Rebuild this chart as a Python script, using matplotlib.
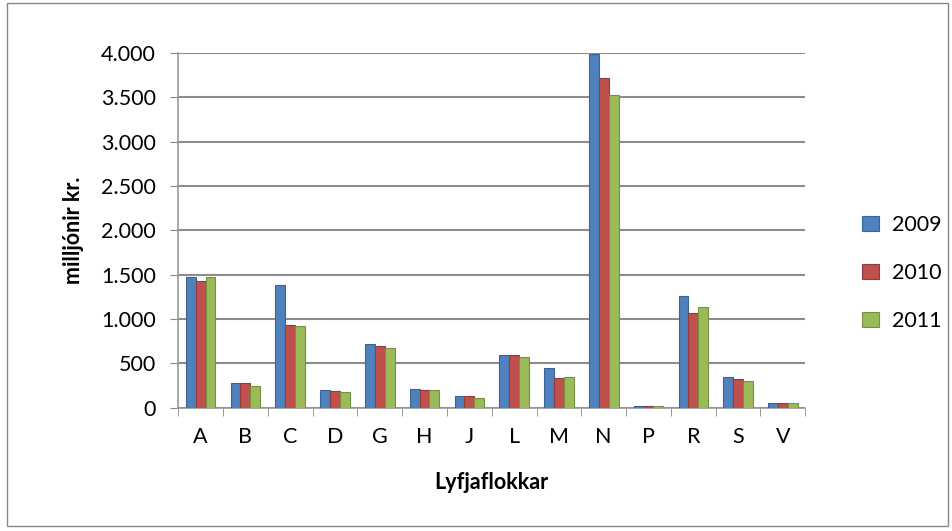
import matplotlib
matplotlib.use("Agg")
import matplotlib.pyplot as plt
import numpy as np
from matplotlib.patches import Rectangle

categories = ["A", "B", "C", "D", "G", "H", "J", "L", "M", "N", "P", "R", "S", "V"]
v2009 = [1480, 280, 1390, 200, 720, 210, 130, 600, 450, 3990, 20, 1260, 350, 50]
v2010 = [1430, 280, 930, 190, 700, 205, 130, 590, 340, 3720, 15, 1070, 325, 50]
v2011 = [1480, 250, 920, 180, 680, 200, 110, 575, 345, 3530, 15, 1135, 305, 50]
series_names = ["2009", "2010", "2011"]
yticks = [0, 500, 1000, 1500, 2000, 2500, 3000, 3500, 4000]
ytick_labels = ["0", "500", "1.000", "1.500", "2.000", "2.500", "3.000", "3.500", "4.000"]

colors = ["#4F81BD", "#C0504D", "#9BBB59"]
edge = ["#3A6496", "#943C39", "#76923C"]

plt.rcParams['font.family'] = ['Lato', 'DejaVu Sans']
fs = 15.5

fig = plt.figure(figsize=(9.53, 5.31), dpi=100)
ax = fig.add_axes([0.187, 0.232, 0.658, 0.668])

x = np.arange(len(categories))
w = 0.22
for i, vals in enumerate([v2009, v2010, v2011]):
    ax.bar(x + (i - 1) * w, vals, width=w, color=colors[i], edgecolor=edge[i],
           linewidth=0.8, label=series_names[i], zorder=3)

ax.set_xlim(-0.45, 13.4)
ax.set_ylim(0, 4000)
ax.set_yticks(yticks)
ax.set_yticklabels(ytick_labels, fontsize=fs)
ax.set_xticks(x)
ax.set_xticklabels(categories, fontsize=fs)
ax.tick_params(axis='x', length=0, pad=14)
ax.set_xticks(np.arange(-0.5, len(categories)), minor=True)
ax.tick_params(axis='x', which='minor', length=6, color='#888888')
ax.tick_params(axis='y', length=6, color='#888888', pad=10)
ax.grid(axis='y', color='#8c8c8c', linewidth=1.5, zorder=0)
for s in ['top', 'right']:
    ax.spines[s].set_visible(False)
for s in ['left', 'bottom']:
    ax.spines[s].set_color('#999999')
    ax.spines[s].set_linewidth(1.2)

ax.set_ylabel("milljónir kr.", fontsize=fs, fontweight='bold', labelpad=12)
ax.set_xlabel("Lyfjaflokkar", fontsize=fs, fontweight='bold', labelpad=18)

leg = fig.legend(loc='center left', bbox_to_anchor=(0.905, 0.486), frameon=False,
                 fontsize=fs, handlelength=0.75, handleheight=0.75, labelspacing=1.3,
                 handletextpad=0.6, borderpad=0, borderaxespad=0)

fig.add_artist(Rectangle((0.007, 0.01), 0.988, 0.985, transform=fig.transFigure,
                         fill=False, edgecolor='#888888', linewidth=1))

fig.savefig("out.png", dpi=100)
